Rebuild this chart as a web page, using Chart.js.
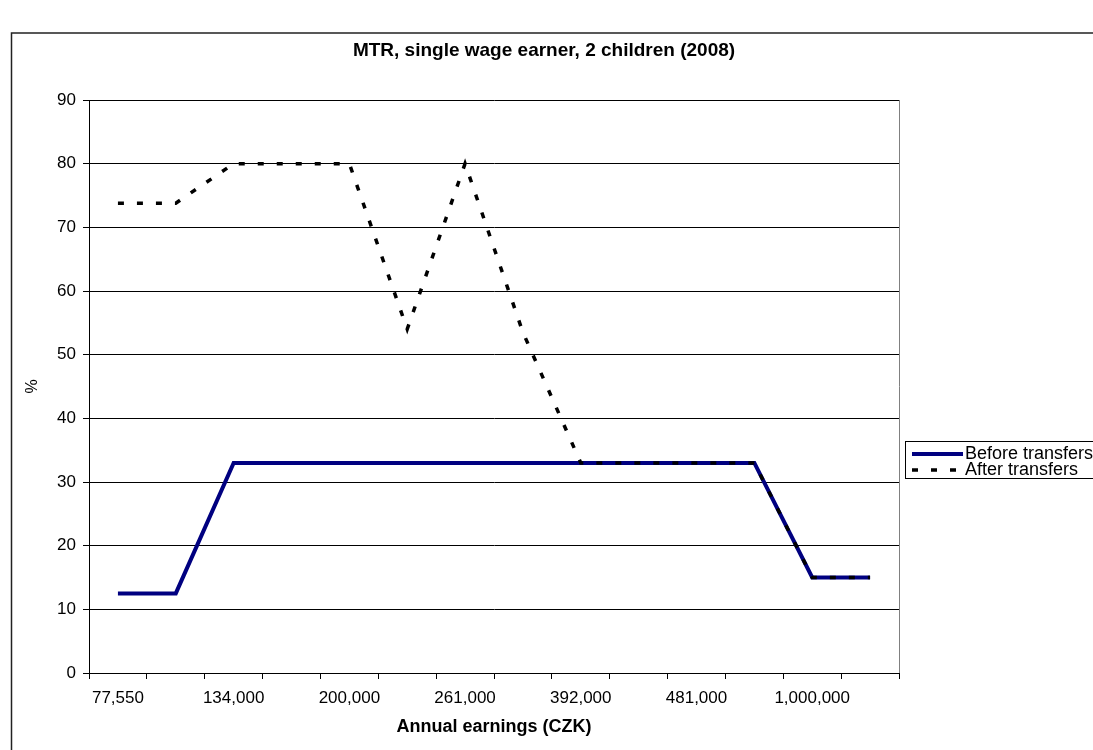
<!DOCTYPE html>
<html>
<head>
<meta charset="utf-8">
<script src="https://cdn.jsdelivr.net/npm/chart.js@4.4.1/dist/chart.umd.min.js"></script>
<style>
    html, body { margin: 0; padding: 0; background: #fff; }
    #wrap { position: relative; width: 1093px; height: 750px; }
</style>
</head>
<body>
<div id="wrap"><canvas id="mtr"></canvas></div>
<script>
// Earnings categories (only every other label is printed on the axis)
const earnings = ['77,550', '', '134,000', '', '200,000', '', '261,000', '', '392,000', '', '481,000', '', '1,000,000', ''];

// Marginal tax rate, %
const beforeTransfers = [12.5, 12.5, 33, 33, 33, 33, 33, 33, 33, 33, 33, 33, 15, 15];
const afterTransfers = [73.8, 73.8, 80, 80, 80, 54, 80, 53.5, 33, 33, 33, 33, 15, 15];

const yTicks = [0, 10, 20, 30, 40, 50, 60, 70, 80, 90];

const chartTitle = 'MTR, single wage earner, 2 children (2008)';
const xTitle = 'Annual earnings (CZK)';
const yTitle = '%';

document.addEventListener('DOMContentLoaded', () => {
    const FONT = '"Liberation Sans", Arial, sans-serif';

    // frame, titles, plot border and the boxed legend (Excel style)
    const decor = {
        id: 'decor',
        beforeDraw(chart) {
            const ctx = chart.ctx;
            ctx.save();
            ctx.fillStyle = '#fff';
            ctx.fillRect(0, 0, chart.width, chart.height);
            ctx.strokeStyle = '#222';
            ctx.lineWidth = 1.5;
            ctx.strokeRect(11.5, 33, chart.width + 20, chart.height + 20);
            ctx.restore();
        },
        afterDatasetsDraw(chart) {
            const ctx = chart.ctx;
            const a = chart.chartArea;
            ctx.save();
            // right edge of plot area
            ctx.strokeStyle = '#808080';
            ctx.lineWidth = 1;
            ctx.beginPath();
            ctx.moveTo(Math.round(a.right) + 0.5, a.top);
            ctx.lineTo(Math.round(a.right) + 0.5, a.bottom);
            ctx.stroke();

            ctx.fillStyle = '#000';
            ctx.textAlign = 'center';
            ctx.textBaseline = 'middle';
            ctx.font = 'bold 19px ' + FONT;
            ctx.fillText(chartTitle, 544, 51);
            ctx.font = 'bold 18px ' + FONT;
            ctx.fillText(xTitle, (a.left + a.right) / 2, 727);

            ctx.font = '16px ' + FONT;
            ctx.translate(33, (a.top + a.bottom) / 2);
            ctx.rotate(-Math.PI / 2);
            ctx.fillText(yTitle, 0, 0);
            ctx.restore();

            // legend
            ctx.save();
            const lx = 905, ly = 441;
            ctx.strokeStyle = '#000';
            ctx.lineWidth = 1;
            ctx.strokeRect(lx + 0.5, ly + 0.5, 300, 37);
            ctx.font = '18px ' + FONT;
            ctx.textAlign = 'left';
            ctx.textBaseline = 'middle';
            chart.data.datasets.forEach((ds, i) => {
                const y = ly + 13 + i * 16;
                ctx.strokeStyle = ds.borderColor;
                ctx.lineWidth = ds.borderWidth;
                ctx.setLineDash(ds.borderDash || []);
                ctx.beginPath();
                ctx.moveTo(lx + 7, y);
                ctx.lineTo(lx + 58, y);
                ctx.stroke();
                ctx.setLineDash([]);
                ctx.fillStyle = '#000';
                ctx.fillText(ds.label, lx + 60, y);
            });
            ctx.restore();
        }
    };

    new Chart(document.getElementById('mtr'), {
        type: 'line',
        data: {
            labels: earnings,
            datasets: [{
                label: 'Before transfers',
                data: beforeTransfers,
                borderColor: '#000080',
                borderWidth: 4,
                pointRadius: 0,
                tension: 0,
                order: 2
            }, {
                label: 'After transfers',
                data: afterTransfers,
                borderColor: '#000',
                borderWidth: 3.5,
                borderDash: [6, 13],
                borderCapStyle: 'butt',
                pointRadius: 0,
                tension: 0,
                order: 1
            }]
        },
        options: {
            responsive: true,
            maintainAspectRatio: false,
            animation: false,
            layout: { padding: { top: 100, left: 0, right: 194, bottom: 0 } },
            plugins: {
                legend: { display: false },
                title: { display: false },
                tooltip: { enabled: false }
            },
            scales: {
                x: {
                    offset: true,
                    grid: {
                        offset: true,
                        drawOnChartArea: false,
                        drawTicks: true,
                        tickLength: 6,
                        tickColor: '#000'
                    },
                    border: { color: '#000', width: 1 },
                    ticks: {
                        autoSkip: false,
                        maxRotation: 0,
                        padding: 9,
                        color: '#000',
                        font: { size: 17, family: FONT },
                        callback: (v, i) => earnings[i]
                    },
                    afterFit: (s) => { s.height = 77; }
                },
                y: {
                    min: 0,
                    max: 90,
                    afterBuildTicks: (s) => { s.ticks = yTicks.map(v => ({ value: v })); },
                    grid: {
                        color: '#000',
                        lineWidth: 1,
                        drawTicks: true,
                        tickLength: 6,
                        tickColor: '#000'
                    },
                    border: { color: '#000', width: 1 },
                    ticks: {
                        padding: 7,
                        color: '#000',
                        font: { size: 17, family: FONT }
                    },
                    afterFit: (s) => { s.width = 89; }
                }
            }
        },
        plugins: [decor]
    });
});
</script>
</body>
</html>
